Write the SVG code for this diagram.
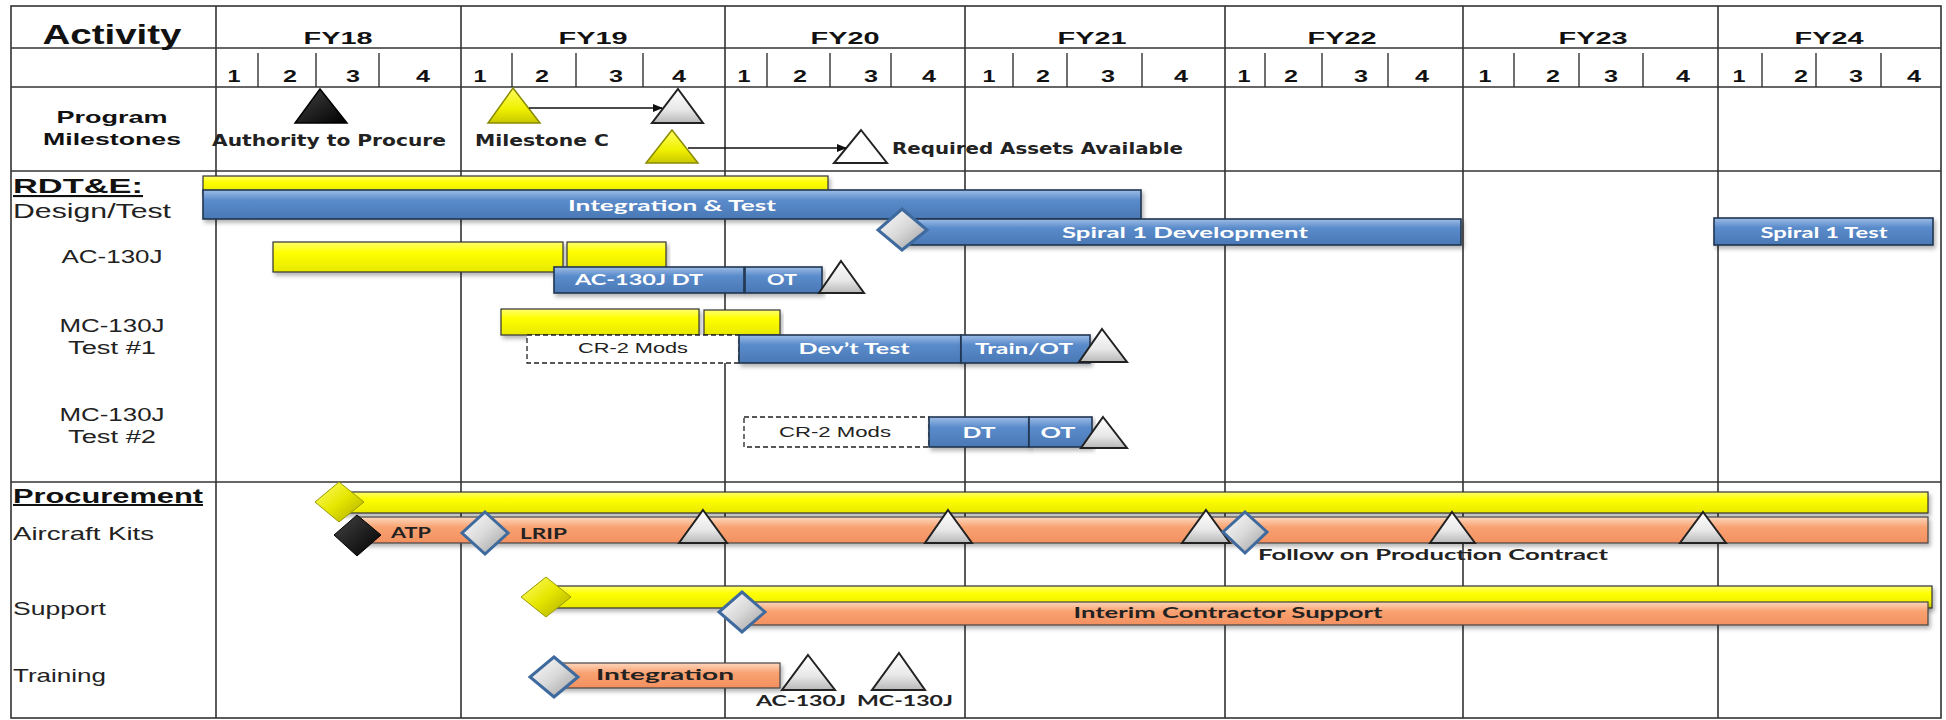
<svg xmlns="http://www.w3.org/2000/svg" width="1946" height="720" viewBox="0 0 1946 720">
<style>
.grid{stroke:#333;stroke-width:1.6;fill:none}
.tick{stroke:#333;stroke-width:1.4}
.hd{font-family:"Liberation Sans",Arial,sans-serif;font-weight:bold;fill:#111}
.q text{font-size:16.5px}
.lbl{font-family:"Liberation Sans",Arial,sans-serif;fill:#222}
.bt{font-family:Lato,"Open Sans",sans-serif;font-weight:bold;fill:#fff;font-size:16px}
.dk{font-family:Lato,"Open Sans",sans-serif;font-weight:bold;fill:#222;font-size:15px}
.ms{font-family:"DejaVu Sans",Verdana,sans-serif;font-weight:bold;fill:#222;font-size:15px}
.cr{font-family:"Liberation Sans",Arial,sans-serif;fill:#222;font-size:15px}
.ybar{fill:url(#gY);stroke:#333;stroke-width:1.2;filter:url(#sh)}
.bbar{fill:url(#gB);stroke:#1f3550;stroke-width:1.6;filter:url(#sh)}
.obar{fill:url(#gO);stroke:#444;stroke-width:1.2;filter:url(#sh)}
.tri{fill:url(#gS);stroke:#222;stroke-width:2}
.trw{fill:#fff;stroke:#222;stroke-width:2}
.ytri{fill:url(#gYT);stroke:#8a8a00;stroke-width:1.5}
.dsv{fill:url(#gD);stroke:#3f6a9e;stroke-width:3}
.dy{fill:url(#gYD);stroke:#9a9a00;stroke-width:1}
.dash{fill:#fff;stroke:#222;stroke-width:1.3;stroke-dasharray:5 3}
.conn{stroke:#111;stroke-width:1.5;fill:none;marker-end:url(#ah)}
</style>
<defs>
<linearGradient id="gY" x1="0" y1="0" x2="0" y2="1"><stop offset="0" stop-color="#ffff70"/><stop offset="0.35" stop-color="#ffff00"/><stop offset="1" stop-color="#e8e800"/></linearGradient>
<linearGradient id="gB" x1="0" y1="0" x2="0" y2="1"><stop offset="0" stop-color="#9dbde6"/><stop offset="0.35" stop-color="#5a8bcb"/><stop offset="1" stop-color="#4a78b5"/></linearGradient>
<linearGradient id="gO" x1="0" y1="0" x2="0" y2="1"><stop offset="0" stop-color="#fdd7bd"/><stop offset="0.4" stop-color="#f9a271"/><stop offset="1" stop-color="#f39060"/></linearGradient>
<linearGradient id="gS" x1="0" y1="0" x2="0" y2="1"><stop offset="0" stop-color="#ffffff"/><stop offset="0.6" stop-color="#e8e8e8"/><stop offset="1" stop-color="#b8b8b8"/></linearGradient>
<linearGradient id="gYT" x1="0" y1="0" x2="0" y2="1"><stop offset="0" stop-color="#ffff60"/><stop offset="0.6" stop-color="#f0f000"/><stop offset="1" stop-color="#c8c800"/></linearGradient>
<linearGradient id="gD" x1="0" y1="0" x2="1" y2="1"><stop offset="0" stop-color="#ffffff"/><stop offset="0.5" stop-color="#d9d9d9"/><stop offset="1" stop-color="#9a9a9a"/></linearGradient>
<linearGradient id="gYD" x1="0" y1="0" x2="1" y2="1"><stop offset="0" stop-color="#ffff70"/><stop offset="0.5" stop-color="#e6e600"/><stop offset="1" stop-color="#a8a800"/></linearGradient>
<linearGradient id="gK" x1="0" y1="0" x2="1" y2="1"><stop offset="0" stop-color="#444"/><stop offset="1" stop-color="#000"/></linearGradient>
<filter id="sh" x="-5%" y="-30%" width="110%" height="180%"><feDropShadow dx="2" dy="3" stdDeviation="2" flood-color="#000" flood-opacity="0.3"/></filter>
<marker id="ah" markerWidth="10" markerHeight="8" refX="9" refY="4" orient="auto" markerUnits="userSpaceOnUse"><path d="M0,0 L10,4 L0,8 z" fill="#111"/></marker>
</defs>
<rect width="1946" height="720" fill="#fff"/>

<g id="grid">
<rect class="grid" x="11" y="6" width="1930" height="712" stroke-width="2"/>
<line class="grid" x1="11" y1="48" x2="1941" y2="48"/>
<line class="grid" x1="11" y1="87" x2="1941" y2="87"/>
<line class="grid" x1="11" y1="171" x2="1941" y2="171" stroke-width="2"/>
<line class="grid" x1="11" y1="482" x2="1941" y2="482" stroke-width="2"/>
<line class="grid" x1="216" y1="6" x2="216" y2="718"/>
<line class="grid" x1="461" y1="6" x2="461" y2="718"/>
<line class="grid" x1="725" y1="6" x2="725" y2="718"/>
<line class="grid" x1="965" y1="6" x2="965" y2="718"/>
<line class="grid" x1="1225" y1="6" x2="1225" y2="718"/>
<line class="grid" x1="1463" y1="6" x2="1463" y2="718"/>
<line class="grid" x1="1718" y1="6" x2="1718" y2="718"/>
<g class="tick">
<line x1="258" y1="53" x2="258" y2="87"/><line x1="316" y1="53" x2="316" y2="87"/><line x1="379" y1="53" x2="379" y2="87"/>
<line x1="512" y1="53" x2="512" y2="87"/><line x1="576" y1="53" x2="576" y2="87"/><line x1="643" y1="53" x2="643" y2="87"/>
<line x1="767" y1="53" x2="767" y2="87"/><line x1="830" y1="53" x2="830" y2="87"/><line x1="891" y1="53" x2="891" y2="87"/>
<line x1="1013" y1="53" x2="1013" y2="87"/><line x1="1067" y1="53" x2="1067" y2="87"/><line x1="1142" y1="53" x2="1142" y2="87"/>
<line x1="1265" y1="53" x2="1265" y2="87"/><line x1="1322" y1="53" x2="1322" y2="87"/><line x1="1388" y1="53" x2="1388" y2="87"/>
<line x1="1514" y1="53" x2="1514" y2="87"/><line x1="1579" y1="53" x2="1579" y2="87"/><line x1="1643" y1="53" x2="1643" y2="87"/>
<line x1="1762" y1="53" x2="1762" y2="87"/><line x1="1816" y1="53" x2="1816" y2="87"/><line x1="1881" y1="53" x2="1881" y2="87"/>
</g>
</g>

<g id="header" class="hd">
<text x="112" y="44" font-size="28" text-anchor="middle" textLength="139" lengthAdjust="spacingAndGlyphs">Activity</text>
<g font-size="16" text-anchor="middle">
<text x="338" y="44" textLength="69" lengthAdjust="spacingAndGlyphs">FY18</text>
<text x="593" y="44" textLength="69" lengthAdjust="spacingAndGlyphs">FY19</text>
<text x="845" y="44" textLength="69" lengthAdjust="spacingAndGlyphs">FY20</text>
<text x="1092" y="44" textLength="69" lengthAdjust="spacingAndGlyphs">FY21</text>
<text x="1342" y="44" textLength="69" lengthAdjust="spacingAndGlyphs">FY22</text>
<text x="1593" y="44" textLength="69" lengthAdjust="spacingAndGlyphs">FY23</text>
<text x="1829" y="44" textLength="69" lengthAdjust="spacingAndGlyphs">FY24</text>
</g>
<g class="q" text-anchor="middle">
<text x="234" y="82" textLength="13" lengthAdjust="spacingAndGlyphs">1</text><text x="290" y="82" textLength="14" lengthAdjust="spacingAndGlyphs">2</text><text x="353" y="82" textLength="14" lengthAdjust="spacingAndGlyphs">3</text><text x="423" y="82" textLength="14" lengthAdjust="spacingAndGlyphs">4</text>
<text x="480" y="82" textLength="13" lengthAdjust="spacingAndGlyphs">1</text><text x="542" y="82" textLength="14" lengthAdjust="spacingAndGlyphs">2</text><text x="616" y="82" textLength="14" lengthAdjust="spacingAndGlyphs">3</text><text x="679" y="82" textLength="14" lengthAdjust="spacingAndGlyphs">4</text>
<text x="744" y="82" textLength="13" lengthAdjust="spacingAndGlyphs">1</text><text x="800" y="82" textLength="14" lengthAdjust="spacingAndGlyphs">2</text><text x="871" y="82" textLength="14" lengthAdjust="spacingAndGlyphs">3</text><text x="929" y="82" textLength="14" lengthAdjust="spacingAndGlyphs">4</text>
<text x="989" y="82" textLength="13" lengthAdjust="spacingAndGlyphs">1</text><text x="1043" y="82" textLength="14" lengthAdjust="spacingAndGlyphs">2</text><text x="1108" y="82" textLength="14" lengthAdjust="spacingAndGlyphs">3</text><text x="1181" y="82" textLength="14" lengthAdjust="spacingAndGlyphs">4</text>
<text x="1244" y="82" textLength="13" lengthAdjust="spacingAndGlyphs">1</text><text x="1291" y="82" textLength="14" lengthAdjust="spacingAndGlyphs">2</text><text x="1361" y="82" textLength="14" lengthAdjust="spacingAndGlyphs">3</text><text x="1422" y="82" textLength="14" lengthAdjust="spacingAndGlyphs">4</text>
<text x="1485" y="82" textLength="13" lengthAdjust="spacingAndGlyphs">1</text><text x="1553" y="82" textLength="14" lengthAdjust="spacingAndGlyphs">2</text><text x="1611" y="82" textLength="14" lengthAdjust="spacingAndGlyphs">3</text><text x="1683" y="82" textLength="14" lengthAdjust="spacingAndGlyphs">4</text>
<text x="1739" y="82" textLength="13" lengthAdjust="spacingAndGlyphs">1</text><text x="1801" y="82" textLength="14" lengthAdjust="spacingAndGlyphs">2</text><text x="1856" y="82" textLength="14" lengthAdjust="spacingAndGlyphs">3</text><text x="1914" y="82" textLength="14" lengthAdjust="spacingAndGlyphs">4</text>
</g>
<text x="112" y="123" font-size="17" text-anchor="middle" textLength="111" lengthAdjust="spacingAndGlyphs">Program</text>
<text x="112" y="145" font-size="17" text-anchor="middle" textLength="138" lengthAdjust="spacingAndGlyphs">Milestones</text>
</g>

<g id="row-labels">
<text class="hd" x="13" y="193" font-size="21" text-decoration="underline" textLength="130" lengthAdjust="spacingAndGlyphs">RDT&amp;E:</text>
<text class="lbl" x="13" y="218" font-size="20" textLength="158" lengthAdjust="spacingAndGlyphs">Design/Test</text>
<text class="lbl" x="112" y="263" font-size="18" text-anchor="middle" textLength="101" lengthAdjust="spacingAndGlyphs">AC-130J</text>
<text class="lbl" x="112" y="332" font-size="18" text-anchor="middle" textLength="105" lengthAdjust="spacingAndGlyphs">MC-130J</text>
<text class="lbl" x="112" y="354" font-size="18" text-anchor="middle" textLength="88" lengthAdjust="spacingAndGlyphs">Test #1</text>
<text class="lbl" x="112" y="421" font-size="18" text-anchor="middle" textLength="105" lengthAdjust="spacingAndGlyphs">MC-130J</text>
<text class="lbl" x="112" y="443" font-size="18" text-anchor="middle" textLength="88" lengthAdjust="spacingAndGlyphs">Test #2</text>
<text class="hd" x="13" y="503" font-size="20" text-decoration="underline" textLength="190" lengthAdjust="spacingAndGlyphs">Procurement</text>
<text class="lbl" x="13" y="540" font-size="19" textLength="141" lengthAdjust="spacingAndGlyphs">Aircraft Kits</text>
<text class="lbl" x="13" y="615" font-size="19" textLength="93" lengthAdjust="spacingAndGlyphs">Support</text>
<text class="lbl" x="13" y="682" font-size="19" textLength="93" lengthAdjust="spacingAndGlyphs">Training</text>
</g>

<g id="milestones">
<g id="ms-atp"><polygon points="320,89 347,123 295,123" fill="url(#gK)" stroke="#000" stroke-width="1.5"/><text class="ms" x="212" y="146" textLength="234" lengthAdjust="spacingAndGlyphs">Authority to Procure</text></g>
<g id="ms-c"><polygon class="ytri" points="513,88 540,123 488,123"/><text class="ms" x="475" y="146" textLength="134" lengthAdjust="spacingAndGlyphs">Milestone C</text></g>
<g id="ms-c-plan"><polygon class="tri" points="678,89 703,123 652,123"/></g>
<g id="ms-raa-start"><polygon class="ytri" points="672,130 698,163 646,163"/></g>
<g id="ms-raa"><polygon class="trw" points="861,130 887,163 834,163"/><text class="ms" x="892" y="154" textLength="291" lengthAdjust="spacingAndGlyphs">Required Assets Available</text></g>
</g>

<g id="connectors">
<line class="conn" x1="529" y1="108" x2="662" y2="108"/>
<line class="conn" x1="688" y1="148" x2="846" y2="148"/>
</g>

<g id="design-test">
<rect class="ybar" x="203" y="176" width="625" height="18"/>
<g id="integration-test"><rect class="bbar" x="203" y="190" width="938" height="29"/><text class="bt" x="672" y="211" text-anchor="middle" textLength="208" lengthAdjust="spacingAndGlyphs">Integration &amp; Test</text></g>
<g id="spiral1-dev"><rect class="bbar" x="902" y="219" width="559" height="26"/><polygon class="dsv" points="902,209 927,230 902,250 878,230"/><text class="bt" x="1185" y="238" text-anchor="middle" textLength="246" lengthAdjust="spacingAndGlyphs">Spiral 1 Development</text></g>
<g id="spiral1-test"><rect class="bbar" x="1714" y="218" width="219" height="27"/><text class="bt" x="1824" y="238" text-anchor="middle" textLength="127" lengthAdjust="spacingAndGlyphs">Spiral 1 Test</text></g>
</g>

<g id="ac130j">
<rect class="ybar" x="273" y="242" width="290" height="30"/>
<rect class="ybar" x="567" y="242" width="99" height="27"/>
<g id="ac-dt"><rect class="bbar" x="554" y="267" width="190" height="26"/><text class="bt" x="639" y="285" text-anchor="middle" textLength="128" lengthAdjust="spacingAndGlyphs">AC-130J DT</text></g>
<g id="ac-ot"><rect class="bbar" x="745" y="267" width="77" height="26"/><text class="bt" x="782" y="285" text-anchor="middle" textLength="30" lengthAdjust="spacingAndGlyphs">OT</text></g>
<polygon class="tri" points="841,261 864,293 819,293"/>
</g>

<g id="mc130j-1">
<rect class="ybar" x="501" y="309" width="198" height="26"/>
<rect class="ybar" x="704" y="310" width="76" height="25"/>
<g id="mc1-cr2"><rect class="dash" x="527" y="335" width="212" height="28"/><text class="cr" x="633" y="353" text-anchor="middle" textLength="110" lengthAdjust="spacingAndGlyphs">CR-2 Mods</text></g>
<g id="mc1-devt"><rect class="bbar" x="739" y="335" width="222" height="28"/><text class="bt" x="854" y="354" text-anchor="middle" textLength="111" lengthAdjust="spacingAndGlyphs">Dev’t Test</text></g>
<g id="mc1-train"><rect class="bbar" x="961" y="335" width="129" height="28"/><text class="bt" x="1024" y="354" text-anchor="middle" textLength="98" lengthAdjust="spacingAndGlyphs">Train/OT</text></g>
<polygon class="tri" points="1102,329 1127,362 1079,362"/>
</g>

<g id="mc130j-2">
<g id="mc2-cr2"><rect class="dash" x="744" y="417" width="185" height="30"/><text class="cr" x="835" y="437" text-anchor="middle" textLength="112" lengthAdjust="spacingAndGlyphs">CR-2 Mods</text></g>
<g id="mc2-dt"><rect class="bbar" x="929" y="417" width="100" height="30"/><text class="bt" x="979" y="438" text-anchor="middle" textLength="33" lengthAdjust="spacingAndGlyphs">DT</text></g>
<g id="mc2-ot"><rect class="bbar" x="1029" y="417" width="63" height="30"/><text class="bt" x="1058" y="438" text-anchor="middle" textLength="35" lengthAdjust="spacingAndGlyphs">OT</text></g>
<polygon class="tri" points="1103,417 1127,448 1081,448"/>
</g>

<g id="aircraft-kits">
<rect class="ybar" x="339" y="492" width="1589" height="21"/>
<polygon class="dy" points="339,482 364,502 339,522 315,502"/>
<rect class="obar" x="357" y="517" width="1571" height="26"/>
<polygon points="357,515 381,535 357,556 334,535" fill="url(#gK)" stroke="#000" stroke-width="1"/>
<text class="dk" x="391" y="538" textLength="40" lengthAdjust="spacingAndGlyphs">ATP</text>
<polygon class="dsv" points="485,512 508,533 485,554 462,533"/>
<text class="dk" x="520" y="539" textLength="47" lengthAdjust="spacingAndGlyphs">LRIP</text>
<polygon class="tri" points="703,510 727,543 679,543"/>
<polygon class="tri" points="948,510 972,543 925,543"/>
<polygon class="tri" points="1206,510 1230,543 1182,543"/>
<polygon class="dsv" points="1245,512 1267,532 1245,553 1223,532"/>
<text class="dk" x="1258" y="560" textLength="350" lengthAdjust="spacingAndGlyphs">Follow on Production Contract</text>
<polygon class="tri" points="1452,512 1475,543 1430,543"/>
<polygon class="tri" points="1703,512 1726,543 1680,543"/>
</g>

<g id="support">
<rect class="ybar" x="546" y="586" width="1386" height="22"/>
<polygon class="dy" points="546,577 571,597 546,617 521,597"/>
<rect class="obar" x="741" y="602" width="1187" height="23"/>
<polygon class="dsv" points="742,592 765,612 742,632 719,612"/>
<text class="dk" x="1228" y="618" text-anchor="middle" textLength="309" lengthAdjust="spacingAndGlyphs">Interim Contractor Support</text>
</g>

<g id="training">
<rect class="obar" x="554" y="663" width="226" height="25"/>
<polygon class="dsv" points="554,657 578,677 554,697 530,677"/>
<text class="dk" x="665" y="680" text-anchor="middle" textLength="138" lengthAdjust="spacingAndGlyphs">Integration</text>
<polygon class="tri" points="808,655 835,690 782,690"/>
<polygon class="tri" points="899,653 925,690 872,690"/>
<text class="dk" x="801" y="706" text-anchor="middle" textLength="90" lengthAdjust="spacingAndGlyphs">AC-130J</text>
<text class="dk" x="905" y="706" text-anchor="middle" textLength="96" lengthAdjust="spacingAndGlyphs">MC-130J</text>
</g>
</svg>
